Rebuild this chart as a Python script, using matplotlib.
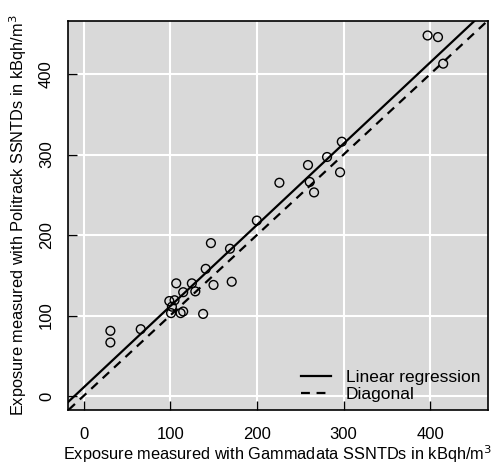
import matplotlib
matplotlib.use("Agg")
import matplotlib.pyplot as plt

plt.rcParams['font.family'] = ['Liberation Sans', 'DejaVu Sans']

# exposures (kBqh/m3)
gammadata = [31, 31, 66, 99, 105, 102, 101, 112, 115, 138,
             107, 115, 129, 125, 150, 171, 141, 147, 169, 200,
             226, 259, 261, 266, 281, 296, 298, 397, 409, 415]
politrack = [81, 66.5, 83, 118, 119, 111, 103, 103, 105, 102,
             140, 129, 130, 140, 138, 142, 158, 190, 183, 218,
             265, 287, 266, 253, 297, 278, 316, 448, 446, 413]

# regression line
reg_intercept = 10.5
reg_slope = 1.01

ticks = [0, 100, 200, 300, 400]

fig = plt.figure(figsize=(4.98, 4.68), dpi=100)
ax = fig.add_axes([68/498, 1 - 410/468, (488-68)/498, (410-21)/468])
ax.set_facecolor('#d9d9d9')

for t in ticks:
    ax.axvline(t, color='white', lw=1.5, zorder=1)
    ax.axhline(t, color='white', lw=1.5, zorder=1)

ax.scatter(gammadata, politrack, s=40, facecolors='none', edgecolors='black',
           linewidths=1.0, zorder=3)

ax.axline((0, reg_intercept), slope=reg_slope, color='black', lw=1.6,
          label='Linear regression', zorder=2)
ax.axline((0, 0), slope=1, color='black', lw=1.6, linestyle=(0, (4, 3)),
          label='Diagonal', zorder=2)

ax.set_xlim(-17.9, 466.7)
ax.set_ylim(-17.4, 466)
ax.set_xticks(ticks)
ax.set_yticks(ticks)
ax.tick_params(axis='both', direction='in', length=6.5, width=1, labelsize=12,
               color='black')
ax.tick_params(axis='x', pad=12)
ax.tick_params(axis='y', pad=10)
for lab in ax.get_yticklabels():
    lab.set_rotation(90)
    lab.set_va('center')
for sp in ax.spines.values():
    sp.set_linewidth(1.2)
    sp.set_color('black')

ax.set_xlabel('Exposure measured with Gammadata SSNTDs in kBqh/m$^3$',
              fontsize=11.8, labelpad=1)
ax.set_ylabel('Exposure measured with Politrack SSNTDs in kBqh/m$^3$',
              fontsize=11.8, labelpad=7)

ax.legend(loc='lower right', frameon=False, fontsize=12.5, handlelength=1.7,
          borderaxespad=0.05, labelspacing=0.1, handletextpad=0.85)

fig.savefig('out.png', dpi=100)
